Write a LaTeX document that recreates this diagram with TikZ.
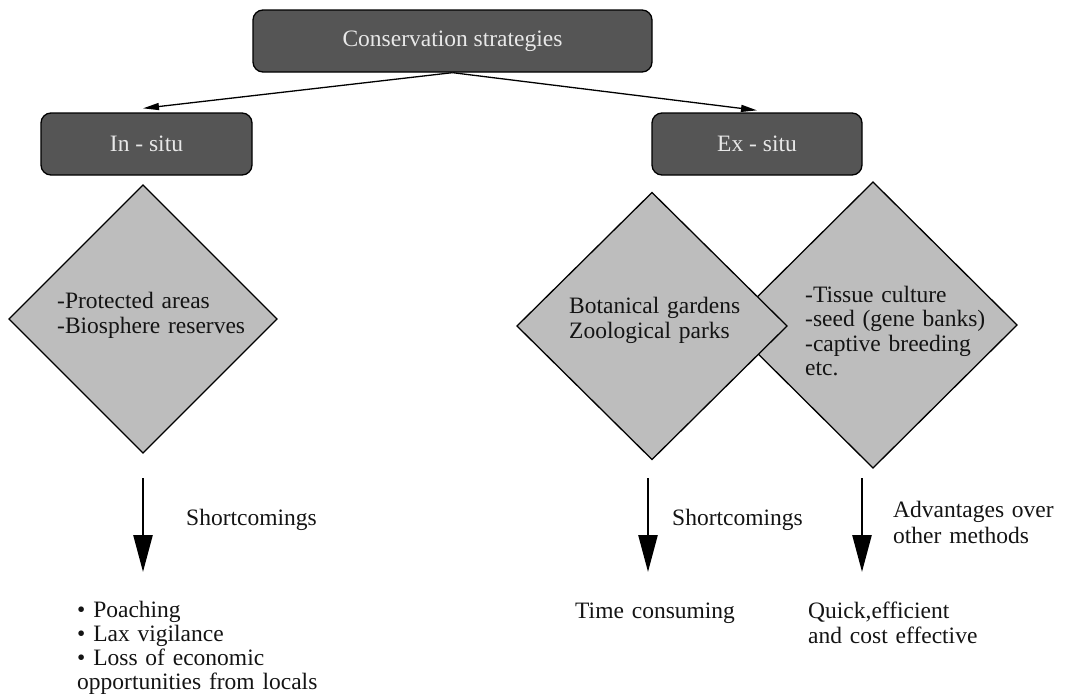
\documentclass[tikz,border=0pt]{standalone}
\usepackage{fontspec}
\setmainfont{Liberation Serif}
\usetikzlibrary{shapes.geometric,arrows.meta}
\definecolor{boxfill}{HTML}{555555}
\definecolor{boxtext}{HTML}{E8E8E8}
\definecolor{dfill}{HTML}{BDBDBD}
\definecolor{ink}{HTML}{141414}
\begin{document}
\begin{tikzpicture}[x=1pt,y=-1pt,
  font=\fontsize{23.5}{25}\selectfont,
  tbox/.style={draw=black, line width=1.3pt, fill=boxfill, text=boxtext,
    rounded corners=10pt, minimum height=62pt, inner sep=0pt},
  dia/.style={diamond, draw=black, line width=1.3pt, fill=dfill,
    inner sep=0pt, outer sep=0pt},
  lbl/.style={anchor=base west, inner sep=0pt, align=left, text width=300pt, text=ink},
  thinarrow/.style={line width=1.3pt, -{Triangle[length=16pt,width=7pt]}},
  bigarrow/.style={line width=2.6pt, -{Triangle[length=37pt,width=19pt]}}
]
\fill[white] (0,0) rectangle (1068,696);
\useasboundingbox (0,0) rectangle (1068,696);

% top boxes
\node[tbox, minimum width=399pt] (top) at (452.5,41) {Conservation strategies};
\node[tbox, minimum width=211pt] (insitu) at (146.5,144) {In - situ};
\node[tbox, minimum width=210pt] (exsitu) at (757,144) {Ex - situ};

\draw[thinarrow] (top.south) -- ([xshift=-3.5pt,yshift=4pt]insitu.north);
\draw[thinarrow] (top.south) -- ([yshift=2pt]exsitu.north);

% diamonds
\node[dia, minimum width=268pt, minimum height=268pt] (d1) at (143,319) {};
\node[dia, minimum width=288pt, minimum height=286pt] (d3) at (873,325) {};
\node[dia, minimum width=270pt, minimum height=267pt] (d2) at (652,326) {};

\node[lbl] (t1) at (57,308) {-Protected areas\\-Biosphere reserves};
\node[lbl] (t2) at (569,313) {Botanical gardens\\Zoological parks};
\node[lbl, font=\fontsize{23.5}{24.5}\selectfont] (t3) at (805,302) {-Tissue culture\\-seed (gene banks)\\-captive breeding\\etc.};

% bottom arrows
\coordinate (a1s) at (143,478); \coordinate (a1e) at (143,572);
\coordinate (a2s) at (648,478); \coordinate (a2e) at (648,572);
\coordinate (a3s) at (862,478); \coordinate (a3e) at (862,572);
\draw[bigarrow] (a1s) -- (a1e);
\draw[bigarrow] (a2s) -- (a2e);
\draw[bigarrow] (a3s) -- (a3e);

\node[lbl] (s1) at (186,525) {Shortcomings};
\node[lbl] (s2) at (672,525) {Shortcomings};
\node[lbl, font=\fontsize{23.5}{26}\selectfont] (s3) at (893,517) {Advantages over\\other methods};

\node[lbl, font=\fontsize{23.5}{24}\selectfont] (r1) at (77,617) {• Poaching\\• Lax vigilance\\• Loss of economic\\opportunities from locals};
\node[lbl] (r2) at (575,618) {Time consuming};
\node[lbl] (r3) at (808,618) {Quick,efficient\\and cost effective};
\end{tikzpicture}
\end{document}
